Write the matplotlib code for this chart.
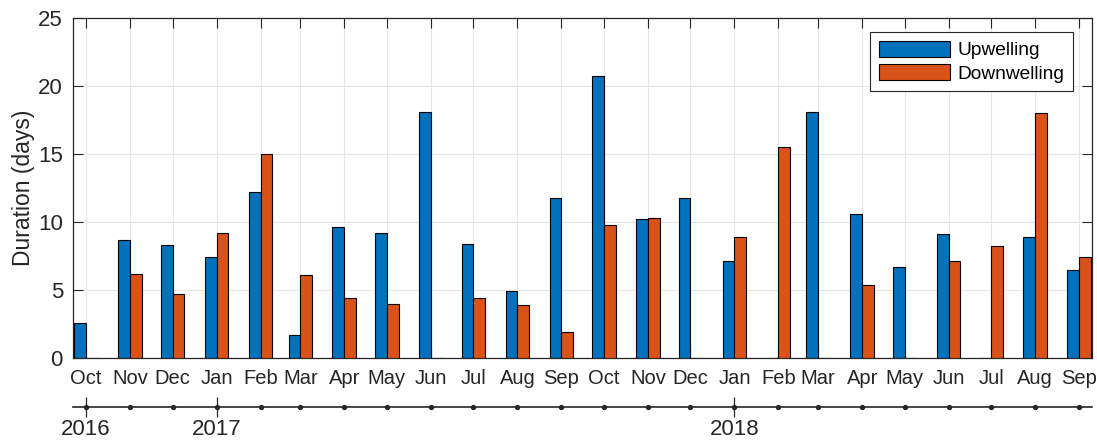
import numpy as np
import matplotlib
matplotlib.use("Agg")
import matplotlib.pyplot as plt
import matplotlib.dates as mdates

plt.rcParams['font.family'] = ['Liberation Sans', 'DejaVu Sans']

# ---- data ----
month_starts = np.arange('2016-10', '2018-10', dtype='datetime64[M]')
month_labels = ['Oct', 'Nov', 'Dec', 'Jan', 'Feb', 'Mar', 'Apr', 'May', 'Jun',
                'Jul', 'Aug', 'Sep', 'Oct', 'Nov', 'Dec', 'Jan', 'Feb', 'Mar',
                'Apr', 'May', 'Jun', 'Jul', 'Aug', 'Sep']
upwelling = [2.6, 8.7, 8.3, 7.4, 12.2, 1.7, 9.6, 9.2, 18.1,
             8.4, 4.9, 11.8, 20.7, 10.2, 11.8, 7.1, 0.0, 18.1,
             10.6, 6.7, 9.1, 0.0, 8.9, 6.5]
downwelling = [0.0, 6.2, 4.7, 9.2, 15.0, 6.1, 4.4, 4.0, 0.0,
               4.4, 3.9, 1.9, 9.8, 10.3, 0.0, 8.9, 15.5, 0.0,
               5.4, 0.0, 7.1, 8.2, 18.0, 7.4]
year_ticks = np.array(['2016-10-01', '2017-01-01', '2018-01-01'], dtype='datetime64[D]')
year_labels = ['2016', '2017', '2018']

blue = '#0072BD'
orange = '#D95319'
axcol = '#262626'

W, H = 1097, 442
fig = plt.figure(figsize=(W / 100, H / 100), dpi=100)

x = mdates.date2num(month_starts.astype('datetime64[D]'))
yx = mdates.date2num(year_ticks)

left_px, right_px, top_px, bot_px = 72.7, 1092, 18, 358
ax = fig.add_axes([left_px / W, (H - bot_px) / H, (right_px - left_px) / W, (bot_px - top_px) / H])

bw = 8.3
ax.bar(x, upwelling, width=-bw, align='edge', color=blue, edgecolor='black',
       linewidth=0.8, label='Upwelling', zorder=3)
ax.bar(x, downwelling, width=bw, align='edge', color=orange, edgecolor='black',
       linewidth=0.8, label='Downwelling', zorder=3)

ax.set_xlim(x[0] - 9.4, x[-1] + 9.0)
ax.set_ylim(0, 25)
ax.set_yticks([0, 5, 10, 15, 20, 25])
ax.set_xticks(x)
ax.set_xticklabels(month_labels, fontsize=14.5, color=axcol)
ax.tick_params(axis='x', direction='in', length=7, width=0.8, pad=8, top=True,
               color=axcol)
ax.tick_params(axis='y', direction='in', length=7, width=0.8, pad=7, right=True,
               labelsize=16, color=axcol, labelcolor=axcol)
ax.grid(True, color='#e6e6e6', linewidth=0.8, zorder=0)
ax.set_axisbelow(True)
for s in ax.spines.values():
    s.set_color(axcol)
    s.set_linewidth(0.9)
ax.set_ylabel('Duration (days)', fontsize=16.5, color=axcol, labelpad=2)

leg = ax.legend(loc='upper right', bbox_to_anchor=(1 - 19 / (right_px - left_px), 1 - 14 / (bot_px - top_px)),
                fontsize=13.8, frameon=True, fancybox=False, framealpha=1,
                edgecolor=axcol, handlelength=3.7, handleheight=0.9,
                borderpad=0.45, labelspacing=0.25, handletextpad=0.4,
                borderaxespad=0)
leg.get_frame().set_linewidth(0.8)

# secondary year axis
line_y = 407
ax2 = fig.add_axes([left_px / W, (H - line_y) / H, (right_px - left_px) / W, 0.0001])
ax2.set_xlim(ax.get_xlim())
ax2.set_ylim(-1, 1)
for k in ['top', 'left', 'right']:
    ax2.spines[k].set_visible(False)
ax2.spines['bottom'].set_position(('data', 0))
ax2.spines['bottom'].set_color(axcol)
ax2.spines['bottom'].set_linewidth(1.2)
ax2.set_yticks([])
ax2.set_xticks(yx)
ax2.set_xticklabels(year_labels, fontsize=16, color=axcol)
ax2.tick_params(axis='x', direction='inout', length=14, width=0.9, pad=1.5, color=axcol)
ax2.plot(x, np.zeros(len(x)), linestyle='none', marker='o', markersize=2.8,
         color=axcol, clip_on=False)
ax2.patch.set_visible(False)

fig.savefig('out.png', dpi=100)
